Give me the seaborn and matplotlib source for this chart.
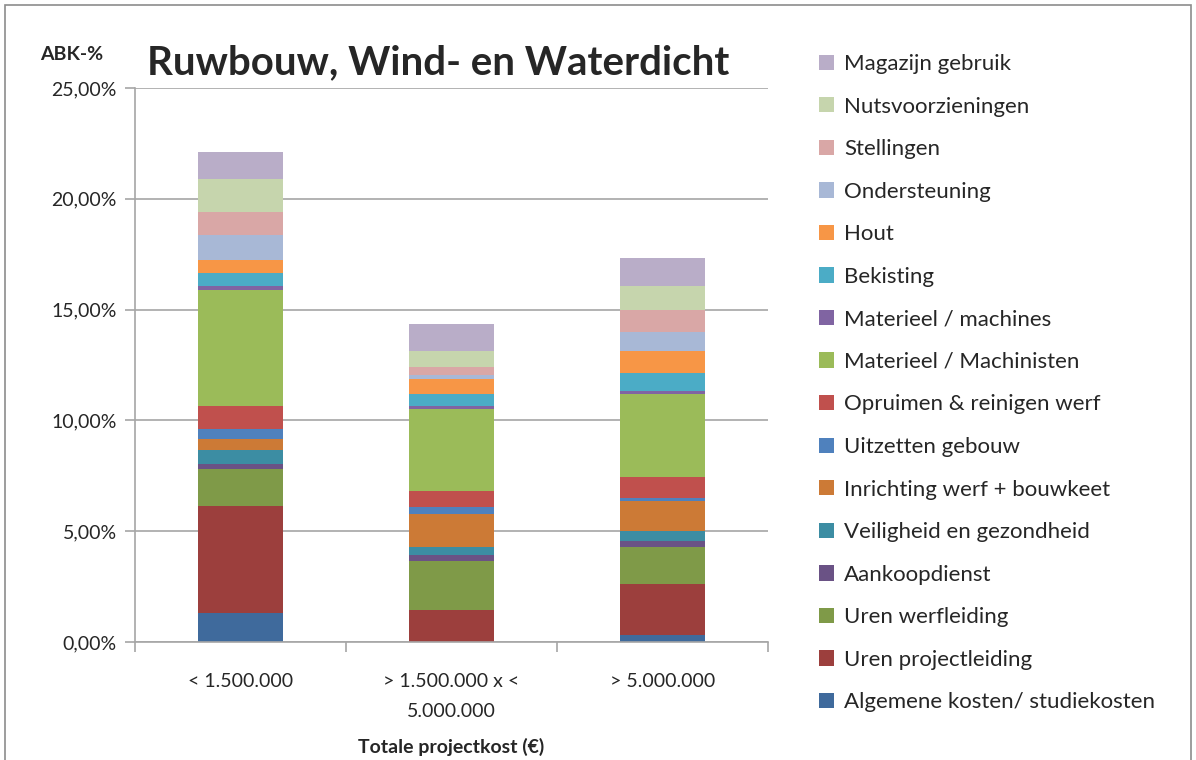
import matplotlib
matplotlib.use("Agg")
import matplotlib.pyplot as plt
import matplotlib.ticker as mticker
from matplotlib.patches import Rectangle, Patch
import seaborn as sns
import pandas as pd
import numpy as np

categories = ["< 1.500.000", "> 1.500.000 x <\n5.000.000", "> 5.000.000"]

series_names = [
    "Algemene kosten/ studiekosten",
    "Uren projectleiding",
    "Uren werfleiding",
    "Aankoopdienst",
    "Veiligheid en gezondheid",
    "Inrichting werf + bouwkeet",
    "Uitzetten gebouw",
    "Opruimen & reinigen werf",
    "Materieel / Machinisten",
    "Materieel / machines",
    "Bekisting",
    "Hout",
    "Ondersteuning",
    "Stellingen",
    "Nutsvoorzieningen",
    "Magazijn gebruik",
]

algemene = [1.29, 0.00, 0.30]
projectleiding = [4.84, 1.46, 2.32]
werfleiding = [1.69, 2.19, 1.67]
aankoop = [0.22, 0.27, 0.28]
veiligheid = [0.63, 0.35, 0.42]
inrichting = [0.51, 1.52, 1.37]
uitzetten = [0.41, 0.28, 0.16]
opruimen = [1.05, 0.75, 0.94]
machinisten = [5.25, 3.69, 3.75]
machines = [0.18, 0.14, 0.13]
bekisting = [0.57, 0.56, 0.79]
hout = [0.59, 0.65, 1.00]
ondersteuning = [1.13, 0.21, 0.85]
stellingen = [1.06, 0.35, 1.00]
nuts = [1.48, 0.69, 1.08]
magazijn = [1.23, 1.23, 1.29]

series_values = [algemene, projectleiding, werfleiding, aankoop, veiligheid,
                 inrichting, uitzetten, opruimen, machinisten, machines,
                 bekisting, hout, ondersteuning, stellingen, nuts, magazijn]

colors = ["#3F6A9C", "#9C3F3D", "#7F9A48", "#6A5285", "#3C8DA3", "#CC7A36",
          "#4F81BD", "#C0504D", "#9BBB59", "#8064A2", "#4BACC6", "#F79646",
          "#A8B8D6", "#D9A7A6", "#C6D5AD", "#B9ADC8"]

sns.set_style("white")
plt.rcParams["font.family"] = ["Lato", "DejaVu Sans"]

fig = plt.figure(figsize=(11.96, 7.6), dpi=100)
ax = fig.add_axes([135/1196, 1 - 642/760, (768-135)/1196, (642-88)/760])

vals = np.array(series_values) / 100.0
cum = np.cumsum(vals, axis=0)

# draw from top layer downwards so each lower cumulative overlays
for i in range(len(series_names) - 1, -1, -1):
    df = pd.DataFrame({"cat": categories, "val": cum[i]})
    sns.barplot(data=df, x="cat", y="val", color=colors[i], width=0.4,
                saturation=1, linewidth=0, ax=ax, order=categories)

ax.set_ylim(0, 0.25)
ax.set_xlim(-0.5, 2.5)
ax.yaxis.set_major_locator(mticker.MultipleLocator(0.05))
ax.yaxis.set_major_formatter(mticker.FuncFormatter(lambda v, p: f"{v*100:.2f}%".replace(".", ",")))
ax.set_axisbelow(True)
ax.grid(axis="y", color="#A6A6A6", linewidth=1.2)
for s in ["top", "right"]:
    ax.spines[s].set_visible(False)
ax.spines["left"].set_color("#A6A6A6")
ax.spines["bottom"].set_color("#A6A6A6")
ax.spines["left"].set_linewidth(1.2)
ax.spines["bottom"].set_linewidth(1.2)

ax.tick_params(axis="y", length=7, color="#A6A6A6", width=1.2, labelsize=14, pad=6, left=True)
ax.set_xticks([0, 1, 2])
ax.set_xticklabels(categories, fontsize=14, linespacing=1.95)
ax.xaxis.set_minor_locator(mticker.FixedLocator([-0.5, 0.5, 1.5, 2.5]))
ax.tick_params(axis="x", which="major", length=0, pad=22)
ax.tick_params(axis="x", which="minor", length=7, color="#A6A6A6", width=1.2, bottom=True)
ax.set_xlabel("Totale projectkost (€)", fontsize=14, fontweight="bold", labelpad=13)
ax.set_ylabel("")

fig.text(72/1196, 1 - 55/760, "ABK-%", fontsize=14, fontweight="bold", ha="center", va="center")
fig.text(438/1196, 1 - 63/760, "Ruwbouw, Wind- en Waterdicht", fontsize=29,
         fontweight="bold", ha="center", va="center")

handles = [Patch(facecolor=colors[i], edgecolor="none") for i in range(len(series_names))][::-1]
labels = series_names[::-1]
fig.legend(handles, labels, loc="upper left", bbox_to_anchor=(819/1196, 1 - 54/760),
           frameon=False, fontsize=16, handlelength=0.68, handleheight=0.68,
           handletextpad=0.45, labelspacing=1.015, borderaxespad=0, borderpad=0)

fig.patches.append(Rectangle((5/1196, -0.01), 1186/1196, 1 - 5/760 + 0.01,
                             transform=fig.transFigure, fill=False,
                             edgecolor="#8C8C8C", linewidth=1.2))

fig.savefig("out.png", dpi=100)
